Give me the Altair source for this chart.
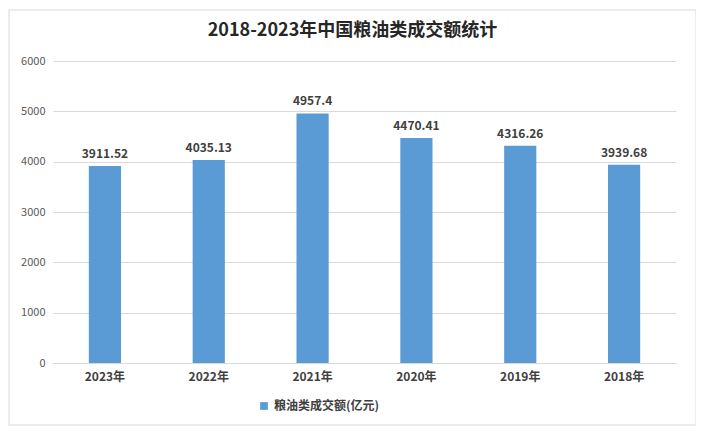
import altair as alt
import pandas as pd

years = ["2023年", "2022年", "2021年", "2020年", "2019年", "2018年"]
values = [3911.52, 4035.13, 4957.4, 4470.41, 4316.26, 3939.68]
labels = ["3911.52", "4035.13", "4957.4", "4470.41", "4316.26", "3939.68"]
series = "粮油类成交额(亿元)"

df = pd.DataFrame({"year": years, "value": values, "label": labels, "series": [series] * 6})

FONT = "Noto Sans CJK SC"
W, H = 623, 302

border = alt.Chart(pd.DataFrame({"a": [0]})).mark_rect(
    fillOpacity=0, stroke="#d9d9d9", strokeWidth=1
).encode(
    x=alt.value(-44), x2=alt.value(643), y=alt.value(-51), y2=alt.value(364)
)

bars = alt.Chart(df).mark_bar(color="#5b9bd5").encode(
    x=alt.X("year:N", sort=years, scale=alt.Scale(paddingInner=0.69, paddingOuter=0.345),
            axis=alt.Axis(title=None, labelAngle=0, labelFont=FONT, labelFontSize=12,
                          labelFontWeight="bold", labelColor="#404040", ticks=False,
                          domainColor="#d9d9d9", labelPadding=8)),
    y=alt.Y("value:Q", scale=alt.Scale(domain=[0, 6000]),
            axis=alt.Axis(title=None, values=[0, 1000, 2000, 3000, 4000, 5000, 6000],
                          format="d",
                          labelFont=FONT, labelFontSize=11, labelColor="#595959",
                          gridColor="#d9d9d9", domain=False, ticks=False, labelPadding=8)),
    fill=alt.Fill("series:N", scale=alt.Scale(range=["#5b9bd5"]),
                  legend=alt.Legend(title=None, orient="none", legendX=205, legendY=339,
                                    symbolType="square", symbolSize=60, labelFont=FONT,
                                    labelFontSize=12, labelFontWeight="bold",
                                    labelColor="#404040")),
)

text = alt.Chart(df).mark_text(dy=-12, font=FONT, fontSize=12, fontWeight="bold",
                               color="#404040").encode(
    x=alt.X("year:N", sort=years), y="value:Q", text="label:N"
)

chart = alt.layer(border, bars, text).properties(
    width=W, height=H,
    title=alt.TitleParams("2018-2023年中国粮油类成交额统计", font=FONT, fontSize=18,
                          fontWeight="bold", color="#262626", anchor="middle", offset=-30,
                          dx=-12),
    padding={"left": 45, "top": 53, "right": 20, "bottom": 66},
    autosize="none",
    background="white",
).configure_view(stroke=None)

chart.save("out.html", embed_options={"renderer": "svg", "actions": False})
